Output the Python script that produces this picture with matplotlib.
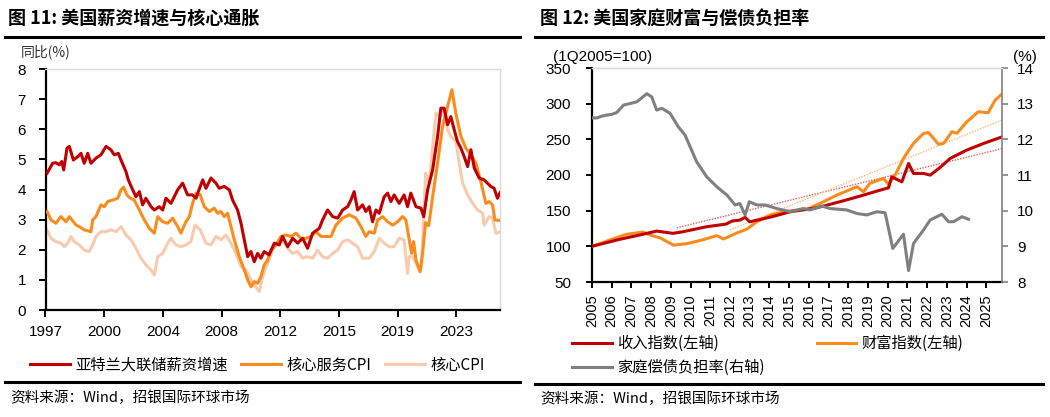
import numpy as np
import matplotlib
matplotlib.use('Agg')
from matplotlib import pyplot as plt
from matplotlib.lines import Line2D

plt.rcParams['font.family'] = ['Noto Sans CJK SC', 'DejaVu Sans']

# ---------------- 图11 data (yoy, %) ----------------
wage_year = [1997.10, 1997.46, 1997.67, 1997.89, 1998.04, 1998.17, 1998.38, 1998.53, 1998.79, 1999.07,
             1999.28, 1999.49, 1999.71, 1999.92, 2000.24, 2000.56, 2000.89, 2001.20, 2001.42, 2001.68,
             2001.85, 2002.17, 2002.32, 2002.60, 2002.81, 2003.03, 2003.24, 2003.45, 2003.78, 2003.99,
             2004.31, 2004.53, 2004.74, 2005.06, 2005.49, 2005.81, 2006.13, 2006.45, 2006.67, 2006.94,
             2007.10, 2007.31, 2007.63, 2007.95, 2008.16, 2008.48, 2008.81, 2009.02, 2009.34, 2009.56,
             2009.77, 2009.99, 2010.20, 2010.41, 2010.63, 2010.84, 2011.05, 2011.37, 2011.70, 2012.02,
             2012.23, 2012.56, 2012.88, 2013.20, 2013.52, 2013.84, 2014.16, 2014.59, 2014.80, 2015.12,
             2015.45, 2015.77, 2016.09, 2016.41, 2016.62, 2016.83, 2017.05, 2017.37, 2017.58, 2017.80,
             2018.01, 2018.23, 2018.44, 2018.76, 2018.98, 2019.19, 2019.40, 2019.72, 2020.04, 2020.26,
             2020.47, 2020.80, 2021.12, 2021.30, 2021.55, 2021.87, 2022.19, 2022.40, 2022.61, 2022.83,
             2023.04, 2023.26, 2023.47, 2023.69, 2023.90, 2024.12, 2024.33, 2024.55, 2024.86, 2025.18,
             2025.61, 2025.82, 2026.04, 2026.21]
wage_yoy = [4.54, 4.87, 4.89, 4.82, 4.93, 4.65, 5.37, 5.43, 4.98, 5.09,
            5.20, 4.87, 5.20, 4.87, 5.04, 5.15, 5.43, 5.32, 5.15, 5.20,
            4.98, 4.59, 4.32, 3.99, 3.76, 3.93, 3.49, 3.71, 3.43, 3.32,
            3.43, 3.32, 3.71, 3.54, 3.99, 4.21, 3.82, 3.82, 3.71, 4.10,
            4.32, 4.04, 4.38, 4.21, 4.04, 4.10, 3.99, 3.65, 3.32, 2.88,
            2.33, 1.77, 1.94, 1.60, 1.88, 1.72, 1.94, 1.83, 2.22, 2.16,
            2.44, 2.10, 2.38, 2.22, 2.38, 2.05, 2.55, 2.71, 2.99, 3.32,
            3.10, 3.05, 3.32, 3.43, 3.65, 3.93, 3.32, 3.49, 3.27, 3.43,
            2.93, 3.32, 3.21, 3.76, 3.88, 3.60, 3.82, 3.54, 3.82, 3.43,
            3.88, 3.43, 3.38, 3.10, 3.99, 4.65, 5.76, 6.70, 6.70, 6.15,
            6.42, 5.98, 5.59, 5.37, 5.09, 4.76, 5.32, 4.71, 4.38, 4.32,
            4.10, 4.04, 3.71, 3.90]

svc_year = [1997.10, 1997.35, 1997.67, 1997.99, 1998.32, 1998.53, 1998.79, 1998.96, 1999.17, 1999.49,
            1999.92, 2000.03, 2000.24, 2000.56, 2000.78, 2000.99, 2001.32, 2001.64, 2001.85, 2002.02,
            2002.23, 2002.45, 2002.70, 2003.03, 2003.35, 2003.67, 2003.99, 2004.21, 2004.53, 2004.85,
            2005.17, 2005.49, 2005.70, 2006.02, 2006.24, 2006.45, 2006.67, 2006.94, 2007.20, 2007.52,
            2007.84, 2008.06, 2008.27, 2008.48, 2008.70, 2008.91, 2009.13, 2009.45, 2009.77, 2009.99,
            2010.20, 2010.41, 2010.63, 2010.84, 2011.05, 2011.27, 2011.48, 2011.80, 2012.13, 2012.45,
            2012.77, 2013.09, 2013.41, 2013.73, 2014.05, 2014.38, 2014.70, 2015.02, 2015.34, 2015.66,
            2016.09, 2016.51, 2016.94, 2017.26, 2017.58, 2017.80, 2018.12, 2018.34, 2018.66, 2018.98,
            2019.30, 2019.62, 2019.94, 2020.15, 2020.37, 2020.52, 2020.65, 2020.80, 2021.07, 2021.25,
            2021.42, 2021.62, 2021.87, 2022.19, 2022.51, 2022.83, 2023.11, 2023.36, 2023.69, 2024.01,
            2024.33, 2024.65, 2024.97, 2025.29, 2025.50, 2025.72, 2025.87, 2026.26]
svc_yoy = [3.27, 2.99, 2.88, 3.10, 2.93, 3.10, 2.93, 2.82, 2.77, 2.66,
           2.60, 2.99, 3.10, 3.49, 3.43, 3.60, 3.65, 3.71, 3.99, 4.08,
           3.82, 3.71, 3.65, 3.32, 2.99, 2.71, 2.55, 3.10, 2.93, 2.88,
           3.05, 2.77, 2.55, 2.93, 3.10, 3.54, 3.88, 3.82, 3.43, 3.27,
           3.38, 3.21, 3.27, 3.10, 3.21, 2.77, 2.33, 1.77, 1.33, 1.00,
           0.77, 0.94, 0.89, 1.11, 1.50, 1.66, 1.99, 2.16, 2.44, 2.49,
           2.44, 2.55, 2.38, 2.38, 2.44, 2.60, 2.44, 2.44, 2.44, 2.82,
           3.05, 3.16, 3.05, 2.77, 2.44, 2.60, 2.55, 2.99, 3.10, 2.93,
           2.82, 2.93, 3.10, 2.99, 2.33, 1.88, 2.27, 1.66, 1.27, 2.00,
           2.90, 2.80, 3.76, 4.87, 6.09, 6.75, 7.31, 6.53, 5.76, 5.37,
           5.15, 4.87, 4.26, 3.54, 3.60, 3.49, 2.99, 2.97]

core_year = [1997.10, 1997.35, 1997.67, 1998.00, 1998.21, 1998.43, 1998.64, 1998.85, 1999.17, 1999.49,
             1999.81, 2000.03, 2000.24, 2000.56, 2000.89, 2001.21, 2001.53, 2001.85, 2002.17, 2002.49,
             2002.81, 2003.13, 2003.45, 2003.78, 2003.99, 2004.21, 2004.53, 2004.85, 2005.06, 2005.38,
             2005.70, 2006.02, 2006.34, 2006.60, 2006.94, 2007.31, 2007.63, 2007.95, 2008.27, 2008.59,
             2008.91, 2009.24, 2009.56, 2009.88, 2010.20, 2010.41, 2010.73, 2010.95, 2011.27, 2011.59,
             2011.91, 2012.23, 2012.56, 2012.88, 2013.20, 2013.52, 2013.84, 2014.16, 2014.48, 2014.80,
             2015.12, 2015.45, 2015.77, 2016.09, 2016.41, 2016.73, 2017.05, 2017.37, 2017.80, 2018.12,
             2018.44, 2018.76, 2019.08, 2019.40, 2019.72, 2020.04, 2020.26, 2020.37, 2020.58, 2020.80,
             2021.01, 2021.16, 2021.42, 2021.65, 2022.08, 2022.40, 2022.61, 2022.83, 2023.04, 2023.37,
             2023.58, 2023.80, 2024.12, 2024.44, 2024.76, 2025.08, 2025.18, 2025.50, 2025.72, 2025.93,
             2026.26]
core_yoy = [2.66, 2.38, 2.27, 2.22, 2.10, 2.22, 2.44, 2.27, 2.16, 1.99,
            1.94, 2.16, 2.44, 2.60, 2.60, 2.66, 2.60, 2.77, 2.49, 2.33,
            2.05, 1.72, 1.50, 1.33, 1.16, 1.77, 1.88, 2.22, 2.38, 2.16,
            2.10, 2.16, 2.27, 2.82, 2.66, 2.22, 2.16, 2.44, 2.33, 2.49,
            2.22, 1.88, 1.44, 1.33, 1.00, 0.83, 0.61, 1.11, 1.55, 1.99,
            2.22, 2.33, 2.05, 1.88, 1.94, 1.72, 1.77, 1.72, 1.99, 1.77,
            1.72, 1.88, 1.99, 2.27, 2.33, 2.22, 2.10, 1.72, 1.72, 1.94,
            2.38, 2.22, 2.10, 2.10, 2.38, 2.33, 1.22, 1.77, 1.77, 1.55,
            1.33, 1.44, 4.54, 4.21, 6.53, 6.42, 6.64, 5.98, 5.76, 5.59,
            4.87, 4.21, 3.82, 3.54, 3.32, 3.21, 2.82, 3.10, 3.05, 2.55,
            2.60]

left_xlabels = ['1997', '2000', '2004', '2008', '2012', '2015', '2019', '2023']

# ---------------- 图12 data ----------------
inc_year = [2005.0, 2006.4, 2007.6, 2008.28, 2009.1, 2009.6, 2010.8, 2011.8, 2012.1, 2012.5,
            2012.77, 2013.0, 2014.0, 2015.05, 2016.4, 2017.75, 2018.77, 2019.45, 2020.04, 2020.21,
            2020.72, 2021.06, 2021.31, 2021.82, 2022.16, 2022.66, 2023.17, 2024.0, 2024.86, 2025.8]
inc_idx = [100, 109.8, 117, 121.4, 118.2, 120.4, 127.4, 131.2, 135.4, 136.8,
           140.6, 134.4, 140.6, 148.4, 154, 163.8, 171.8, 177.4, 182, 197.4,
           190.4, 216.2, 202.2, 202.2, 199.8, 210.6, 223.2, 234.8, 244.2, 253.4]

wealth_year = [2005.0, 2006.0, 2006.76, 2007.6, 2008.0, 2008.45, 2009.13, 2009.81, 2010.31, 2010.65,
               2011.33, 2011.67, 2012.35, 2012.85, 2013.36, 2014.04, 2014.7, 2015.4, 2015.9, 2016.57,
               2017.42, 2018.44, 2018.77, 2019.1, 2019.79, 2020.04, 2020.38, 2020.8, 2021.31, 2021.82,
               2022.08, 2022.58, 2022.84, 2023.26, 2023.51, 2024.02, 2024.6, 2025.1, 2025.45, 2025.8]
wealth_idx = [100, 109.8, 117, 120, 115.4, 112, 101.7, 103.8, 107, 109.4,
              115, 110.3, 118.8, 124, 134.4, 143.8, 148.4, 150.8, 151.8, 160.2,
              171.8, 183.6, 176.6, 188.4, 195.4, 186.9, 200, 223.3, 244.4, 258.4,
              259.4, 243, 244.4, 260.7, 258.4, 274.7, 288.7, 287.3, 305, 313.4]

dsr_year = [2005.0, 2005.25, 2005.5, 2005.75, 2006.0, 2006.25, 2006.6, 2007.27, 2007.78, 2008.03,
            2008.28, 2008.54, 2008.96, 2009.38, 2009.72, 2010.31, 2010.82, 2011.33, 2011.84, 2012.26,
            2012.5, 2012.77, 2012.98, 2013.36, 2013.78, 2014.37, 2015.05, 2015.72, 2016.07, 2016.66,
            2017.08, 2017.93, 2018.44, 2018.94, 2019.45, 2019.87, 2020.26, 2020.8, 2021.06, 2021.31,
            2021.82, 2022.16, 2022.75, 2023.09, 2023.34, 2023.77, 2024.1]
dsr = [12.60, 12.60, 12.65, 12.68, 12.70, 12.75, 12.96, 13.05, 13.28, 13.19,
       12.82, 12.87, 12.73, 12.35, 12.12, 11.37, 10.95, 10.67, 10.44, 10.16,
       10.20, 9.88, 10.25, 10.16, 10.16, 10.06, 9.97, 10.06, 10.02, 10.13,
       10.06, 10.02, 9.92, 9.88, 9.97, 9.94, 8.94, 9.34, 8.32, 9.08,
       9.46, 9.74, 9.90, 9.69, 9.69, 9.83, 9.76]

# Excel-style trendlines (start / end)
inc_trend_year = [2009.3, 2025.8]
inc_trend = [126, 237]
wealth_trend_year = [2012.0, 2025.8]
wealth_trend = [123, 277]

right_years = list(range(2005, 2026))

RED = '#C00000'
ORANGE = '#FA8C1E'
PEACH = '#F8CBAD'
GREY = '#808080'
LIGHT = '#D9D9D9'
NUM_FONT = 'Liberation Sans'

W, H = 1050, 417
fig = plt.figure(figsize=(W / 100, H / 100), dpi=100)


def fx(px):
    return px / W


def fy(py):
    return 1 - py / H


def hline(x0, x1, y, lw=2.2):
    fig.add_artist(Line2D([fx(x0), fx(x1)], [fy(y), fy(y)], color='black', lw=lw,
                          transform=fig.transFigure))


# ---------- left panel ----------
fig.text(fx(8), fy(18), '图 11: 美国薪资增速与核心通胀', fontsize=13, fontweight='bold', va='center')
hline(5, 520, 37)
hline(5, 520, 382)
fig.text(fx(10), fy(398), '资料来源：Wind，招银国际环球市场', fontsize=10.5, va='center')
fig.text(fx(21), fy(52), '同比(%)', fontsize=10, va='center', color='#333333')

ax1 = fig.add_axes([fx(45.5), fy(310), (500 - 45.5) / W, (310 - 69) / H])
ax1.plot(core_year, core_yoy, color=PEACH, lw=2.2, label='核心CPI', zorder=2)
ax1.plot(svc_year, svc_yoy, color=ORANGE, lw=2.2, label='核心服务CPI', zorder=3)
ax1.plot(wage_year, wage_yoy, color=RED, lw=2.2, label='亚特兰大联储薪资增速', zorder=4)

ax1.set_xlim(1997, 2026.2)
ax1.set_ylim(0, 8)
ax1.set_yticks(np.arange(0, 9, 1))
step = 3.77
ax1.set_xticks(1997 + step * np.arange(len(left_xlabels)))
ax1.set_xticklabels(left_xlabels)
for s in ['top', 'right']:
    ax1.spines[s].set_color(LIGHT)
    ax1.spines[s].set_linewidth(1)
for s in ['left', 'bottom']:
    ax1.spines[s].set_linewidth(1.6)
ax1.tick_params(axis='y', direction='out', length=5, width=1.4, pad=9, labelsize=11,
                labelfontfamily=NUM_FONT)
ax1.tick_params(axis='x', direction='out', length=5, width=1.4, pad=6, labelsize=11,
                labelfontfamily=NUM_FONT)

h1, l1 = ax1.get_legend_handles_labels()
order = [2, 1, 0]
fig.legend([h1[i] for i in order], [l1[i] for i in order], loc='center left',
           bbox_to_anchor=(fx(30), fy(365)), ncol=3, frameon=False, fontsize=11,
           handlelength=2.6, handletextpad=0.35, columnspacing=0.9, borderpad=0, borderaxespad=0)

# ---------- right panel ----------
fig.text(fx(540), fy(18), '图 12: 美国家庭财富与偿债负担率', fontsize=13, fontweight='bold', va='center')
hline(535, 1043, 37)
hline(535, 1043, 384)
fig.text(fx(540), fy(399), '资料来源：Wind，招银国际环球市场', fontsize=10.5, va='center')
fig.text(fx(553), fy(57), '(1Q2005=100)', fontsize=11, va='center', family=NUM_FONT)
fig.text(fx(1013), fy(57), '(%)', fontsize=11, va='center', family=NUM_FONT)

ax2 = fig.add_axes([fx(592), fy(282), (1002 - 592) / W, (282 - 68) / H])
ax3 = ax2.twinx()
ax2.plot(inc_trend_year, inc_trend, color='#E06060', lw=1, ls=(0, (1, 1)), zorder=2)
ax2.plot(wealth_trend_year, wealth_trend, color='#FFB870', lw=1, ls=(0, (1, 1)), zorder=2)
l_inc, = ax2.plot(inc_year, inc_idx, color=RED, lw=2.2, label='收入指数(左轴)', zorder=4)
l_wea, = ax2.plot(wealth_year, wealth_idx, color=ORANGE, lw=2.2, label='财富指数(左轴)', zorder=3)
l_dsr, = ax3.plot(dsr_year, dsr, color=GREY, lw=2.2, label='家庭偿债负担率(右轴)')

ax2.set_xlim(2005, 2025.8)
ax2.set_ylim(50, 350)
ax2.set_yticks(np.arange(50, 351, 50))
ax3.set_ylim(8, 14)
ax3.set_yticks(np.arange(8, 15, 1))
ax2.set_xticks(right_years)
ax2.set_xticklabels([str(y) for y in right_years], rotation=90)

for ax in (ax2, ax3):
    ax.spines['top'].set_color(LIGHT)
    ax.spines['top'].set_linewidth(1)
ax3.spines['left'].set_visible(False)
ax3.spines['bottom'].set_visible(False)
ax2.spines['right'].set_visible(False)
ax3.spines['right'].set_color(GREY)
ax3.spines['right'].set_linewidth(1.2)
ax2.spines['left'].set_linewidth(1.6)
ax2.spines['bottom'].set_linewidth(1.6)
ax2.tick_params(axis='y', direction='out', length=4, width=1.4, pad=11, labelsize=11,
                labelfontfamily=NUM_FONT)
ax2.tick_params(axis='x', direction='out', length=4, width=1.4, pad=5, labelsize=10.5,
                labelfontfamily=NUM_FONT)
ax3.tick_params(axis='y', direction='out', length=4, width=1.2, color=GREY, pad=7,
                labelsize=11, labelfontfamily=NUM_FONT)

fig.legend([l_inc, l_dsr, l_wea], [l_inc.get_label(), l_dsr.get_label(), l_wea.get_label()],
           loc='upper left', bbox_to_anchor=(fx(572), fy(335)), ncol=2, frameon=False,
           fontsize=11, handlelength=2.6, handletextpad=0.35, columnspacing=3.4,
           labelspacing=0.45, borderpad=0, borderaxespad=0)

fig.savefig('out.png', dpi=100)
